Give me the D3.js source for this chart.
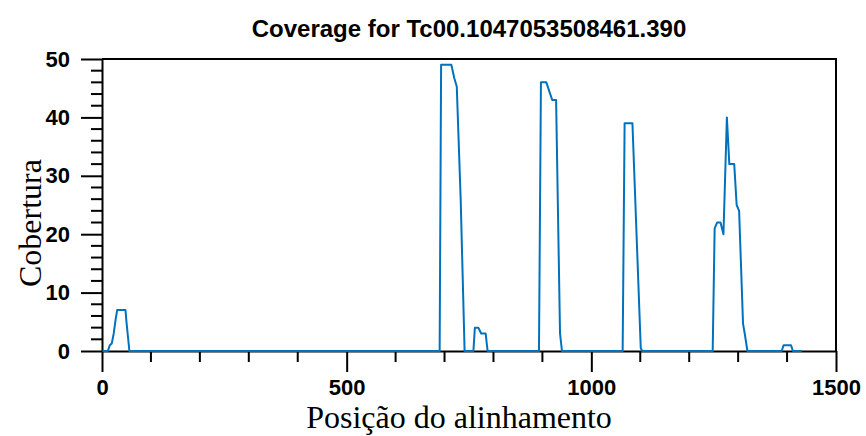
<!DOCTYPE html>
<html>
<head>
<meta charset="utf-8">
<script src="https://cdn.jsdelivr.net/npm/d3@7"></script>
<style>
  html, body { margin: 0; padding: 0; background: #fff; }
  svg { display: block; }
</style>
</head>
<body>
<svg id="chart" width="866" height="436"></svg>
<script>
// Read coverage along the alignment (position, depth)
const positions = [1, 12, 16, 20, 24, 28, 31, 48, 50, 56,
  690, 693, 714, 720, 725, 733, 741,
  759, 762, 769, 775, 784, 788,
  893, 897, 908, 920, 928, 936, 940,
  1064, 1068, 1084, 1101, 1104,
  1248, 1252, 1257, 1264, 1270, 1277, 1282, 1292, 1297, 1302, 1310, 1314, 1319,
  1389, 1393, 1408, 1412, 1430];
const coverage = [0, 0, 1, 1.3, 3, 5.5, 7, 7, 5, 0,
  0, 49, 49, 46.7, 45.3, 26, 0,
  0, 4, 4, 3, 3, 0,
  0, 46, 46, 43, 43, 3, 0,
  0, 39, 39, 0.5, 0,
  0, 21, 22, 22, 20, 40, 32, 32, 25, 24, 4.7, 2.7, 0,
  0, 1, 1, 0, 0];

const xTicks = [0, 500, 1000, 1500];
const yTicks = [0, 10, 20, 30, 40, 50];
const titleText = "Coverage for Tc00.1047053508461.390";
const xLabel = "Posição do alinhamento";
const yLabel = "Cobertura";

const svg = d3.select("#chart");
const margin = { left: 102, right: 30, top: 59, bottom: 85 };
const W = 866, H = 436;

const x = d3.scaleLinear().domain([0, 1500]).range([margin.left, W - margin.right]);
const y = d3.scaleLinear().domain([0, 50]).range([H - margin.bottom, margin.top]);

const sans = "'Liberation Sans', Arial, sans-serif";
const serif = "'Liberation Serif', 'Times New Roman', serif";

// frame: top and right borders
svg.append("path")
  .attr("d", `M${x(0)},${y(50)}H${x(1500)}V${y(0)}`)
  .attr("fill", "none").attr("stroke", "#000").attr("stroke-width", 2);

// y axis: major ticks every 10, minor every 2
const yAxis = d3.axisLeft(y).tickValues(yTicks).tickSize(21).tickPadding(11).tickSizeOuter(0)
  .tickFormat(d3.format("d"));
const gy = svg.append("g").attr("transform", `translate(${x(0)},0)`).call(yAxis);
gy.selectAll(".tick line").attr("stroke-width", 2);
const yMinor = d3.range(0, 51, 2).filter(v => v % 10 !== 0);
gy.selectAll(".minor").data(yMinor).enter().append("line")
  .attr("x1", -11).attr("x2", 0).attr("y1", d => y(d)).attr("y2", d => y(d))
  .attr("stroke", "#000").attr("stroke-width", 2);
gy.select(".domain").attr("stroke-width", 2);
gy.selectAll("text").attr("font-family", sans).attr("font-weight", "bold")
  .attr("font-size", 22).attr("fill", "#000");

// x axis: major ticks every 500, minor every 100
const xAxis = d3.axisBottom(x).tickValues(xTicks).tickSize(21).tickPadding(7).tickSizeOuter(0)
  .tickFormat(d3.format("d"));
const gx = svg.append("g").attr("transform", `translate(0,${y(0)})`).call(xAxis);
gx.selectAll(".tick line").attr("stroke-width", 2);
const xMinor = d3.range(0, 1501, 100).filter(v => v % 500 !== 0);
gx.selectAll(".minor").data(xMinor).enter().append("line")
  .attr("x1", d => x(d)).attr("x2", d => x(d)).attr("y1", 0).attr("y2", 11)
  .attr("stroke", "#000").attr("stroke-width", 2);
gx.select(".domain").attr("stroke-width", 2);
gx.selectAll("text").attr("font-family", sans).attr("font-weight", "bold")
  .attr("font-size", 22).attr("fill", "#000");

// coverage line, drawn over the axes
const line = d3.line().x((d, i) => x(positions[i])).y(d => y(d));
svg.append("path")
  .datum(coverage)
  .attr("d", line)
  .attr("fill", "none")
  .attr("stroke", "#0072BD")
  .attr("stroke-width", 2)
  .attr("stroke-linejoin", "round");

// title
svg.append("text")
  .attr("x", 469).attr("y", 37)
  .attr("text-anchor", "middle")
  .attr("font-family", sans).attr("font-weight", "bold").attr("font-size", 24)
  .text(titleText);

// axis titles
svg.append("text")
  .attr("x", 459).attr("y", 428)
  .attr("text-anchor", "middle")
  .attr("font-family", serif).attr("font-size", 32)
  .text(xLabel);

svg.append("text")
  .attr("transform", "translate(41,223) rotate(-90)")
  .attr("text-anchor", "middle")
  .attr("font-family", serif).attr("font-size", 32)
  .text(yLabel);
</script>
</body>
</html>
